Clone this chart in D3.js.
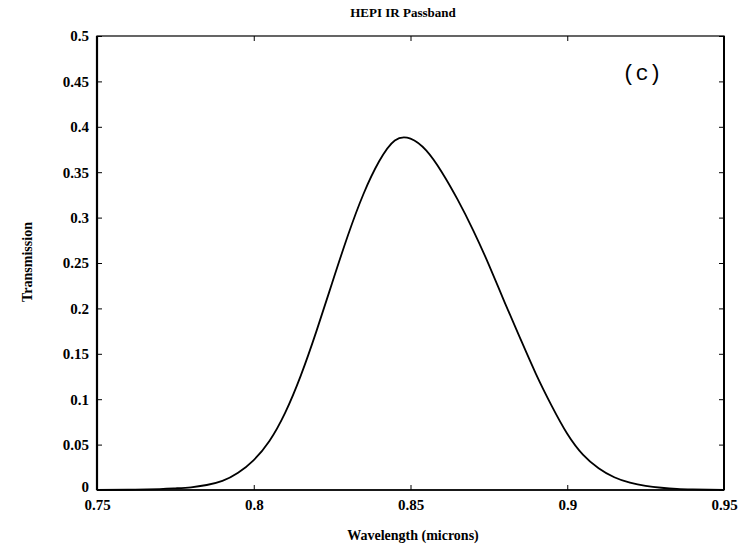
<!DOCTYPE html>
<html><head><meta charset="utf-8">
<script src="https://cdn.jsdelivr.net/npm/d3@7"></script>
<style>body{margin:0;background:#fff}svg{display:block}</style>
</head><body>
<svg id="c" width="746" height="556"></svg>
<script>
const title = "HEPI IR Passband";
const xLabel = "Wavelength (microns)";
const yLabel = "Transmission";
const panelTag = "(c)";
const wavelength = [0.750,0.760,0.770,0.775,0.780,0.785,0.790,0.795,0.800,0.805,0.810,0.815,0.820,0.825,0.830,0.835,0.840,0.845,0.850,0.855,0.860,0.865,0.870,0.875,0.880,0.885,0.890,0.895,0.900,0.905,0.910,0.915,0.920,0.925,0.930,0.935,0.940,0.945,0.950];
const transmission = [0.0,0.0003,0.001,0.0018,0.003,0.0055,0.010,0.019,0.033,0.054,0.085,0.126,0.175,0.228,0.280,0.326,0.362,0.385,0.387,0.374,0.350,0.320,0.286,0.248,0.207,0.167,0.128,0.093,0.062,0.039,0.024,0.014,0.008,0.0045,0.0025,0.0013,0.0007,0.0003,0.0001];
const xTicks = [0.75,0.8,0.85,0.9,0.95];
const xTickLabels = ["0.75","0.8","0.85","0.9","0.95"];
const yTicks = [0,0.05,0.1,0.15,0.2,0.25,0.3,0.35,0.4,0.45,0.5];
const yTickLabels = ["0","0.05","0.1","0.15","0.2","0.25","0.3","0.35","0.4","0.45","0.5"];

const L = 97, R = 724, T = 36, B = 490;
const svg = d3.select("#c");
const x = d3.scaleLinear().domain([0.75,0.95]).range([L,R]);
const y = d3.scaleLinear().domain([0,0.5]).range([B,T]);
const font = "'Liberation Serif', 'DejaVu Serif', serif";

// frame
svg.append("rect").attr("x",L).attr("y",T).attr("width",R-L).attr("height",B-T)
  .attr("fill","none").attr("stroke","#000").attr("stroke-width",1.2);
svg.append("line").attr("x1",L).attr("x2",L).attr("y1",T).attr("y2",B).attr("stroke","#000").attr("stroke-width",2.2);
svg.append("line").attr("x1",R).attr("x2",R).attr("y1",T).attr("y2",B).attr("stroke","#000").attr("stroke-width",2);
svg.append("line").attr("x1",L).attr("x2",R).attr("y1",B).attr("y2",B).attr("stroke","#000").attr("stroke-width",1.6);

// axes via d3
const fmtX = d => xTickLabels[xTicks.indexOf(d)];
const fmtY = d => yTickLabels[yTicks.indexOf(d)];
const gx = svg.append("g").attr("transform",`translate(0,${B})`)
  .call(d3.axisBottom(x).tickValues(xTicks).tickFormat(fmtX).tickSizeInner(-5).tickSizeOuter(0).tickPadding(11));
const gy = svg.append("g").attr("transform",`translate(${L},0)`)
  .call(d3.axisLeft(y).tickValues(yTicks).tickFormat(fmtY).tickSizeInner(-5).tickSizeOuter(0).tickPadding(8));
const gxt = svg.append("g").attr("transform",`translate(0,${T})`)
  .call(d3.axisTop(x).tickValues(xTicks).tickFormat("").tickSizeInner(-5).tickSizeOuter(0));
const gyr = svg.append("g").attr("transform",`translate(${R},0)`)
  .call(d3.axisRight(y).tickValues(yTicks).tickFormat("").tickSizeInner(-5).tickSizeOuter(0));
[gx,gy,gxt,gyr].forEach(g=>{
  g.select(".domain").remove();
  g.selectAll(".tick line").attr("stroke","#000").attr("stroke-width",1);
  g.selectAll("text").attr("font-family",font).attr("font-weight","bold").attr("font-size",15).attr("fill","#000");
});
gx.selectAll("text").attr("dy","0.6em");
gy.selectAll(".tick").filter(d=>d===0).select("text").attr("dy","0.1em");

// curve
const pts = wavelength.map((w,i)=>[w,transmission[i]]);
svg.append("path").datum(pts)
  .attr("d", d3.line().x(d=>x(d[0])).y(d=>y(d[1])).curve(d3.curveNatural))
  .attr("fill","none").attr("stroke","#000").attr("stroke-width",1.8);

// texts
svg.append("text").attr("x",403).attr("y",17).attr("text-anchor","middle")
  .attr("font-family",font).attr("font-weight","bold").attr("font-size",13).text(title);
svg.append("text").attr("x",413).attr("y",540).attr("text-anchor","middle")
  .attr("font-family",font).attr("font-weight","bold").attr("font-size",14).text(xLabel);
svg.append("text").attr("transform","translate(32,262) rotate(-90)").attr("text-anchor","middle")
  .attr("font-family",font).attr("font-weight","bold").attr("font-size",14).text(yLabel);
svg.append("text").attr("x",642).attr("y",80).attr("text-anchor","middle")
  .attr("font-family","'Liberation Mono', 'DejaVu Sans Mono', monospace").attr("font-size",22).text(panelTag);
</script>
</body></html>
